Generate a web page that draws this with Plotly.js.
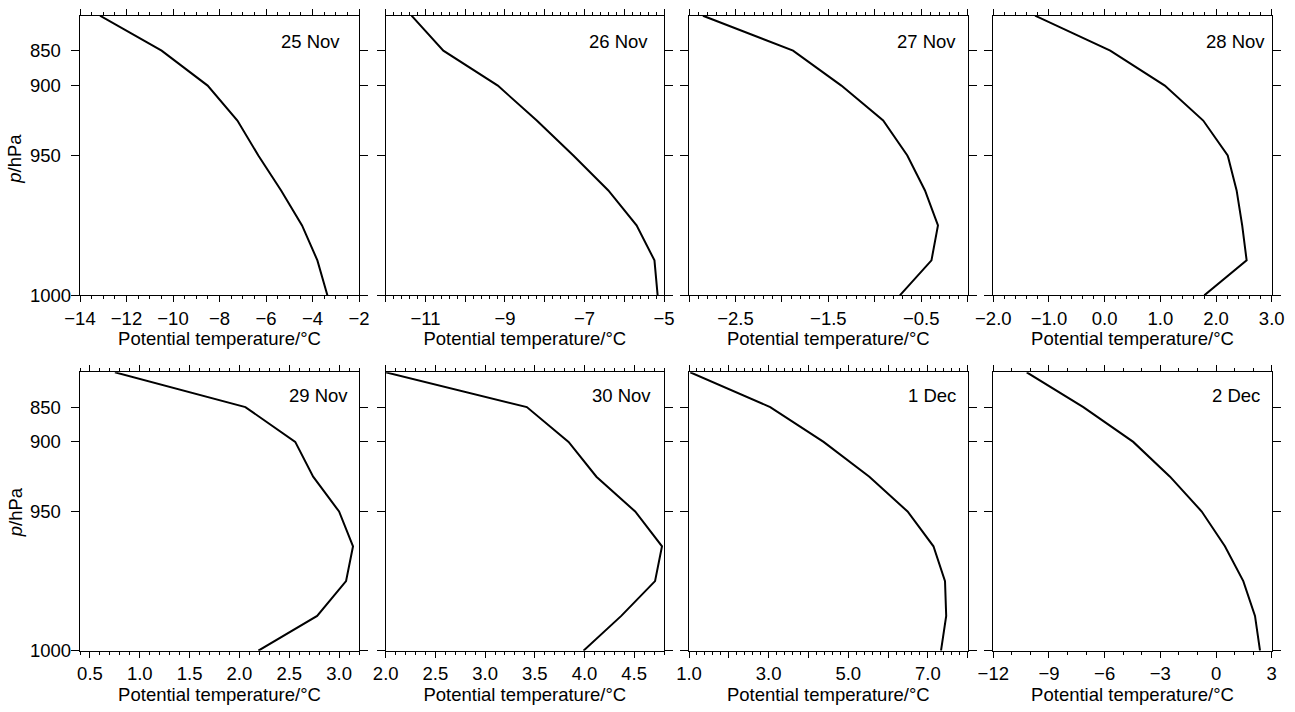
<!DOCTYPE html>
<html>
<head>
<meta charset="utf-8">
<script src="https://cdn.plot.ly/plotly-3.0.1.min.js"></script>
<style>html,body{margin:0;padding:0;background:#fff;}#chart{width:1295px;height:712px;}</style>
</head>
<body>
<div id="chart"></div>
<script>
// ---- data ----
const dates = ['25 Nov', '26 Nov', '27 Nov', '28 Nov', '29 Nov', '30 Nov', '1 Dec', '2 Dec'];
// vertical model levels, top (0) to surface (8)
const levels = [0, 1, 2, 3, 4, 5, 6, 7, 8];
const pTickLevels = [1, 2, 4, 8];
const pTickText = ['850', '900', '950', '1000'];

const theta25Nov = [-13.14, -10.49, -8.51, -7.23, -6.33, -5.35, -4.45, -3.79, -3.36];
const theta26Nov = [-11.35, -10.55, -9.18, -8.20, -7.28, -6.40, -5.69, -5.24, -5.16];
const theta27Nov = [-2.85, -1.88, -1.36, -0.91, -0.65, -0.46, -0.32, -0.39, -0.73];
const theta28Nov = [-1.25, 0.10, 1.08, 1.77, 2.21, 2.37, 2.47, 2.55, 1.79];
const theta29Nov = [0.75, 2.06, 2.56, 2.74, 3.00, 3.14, 3.07, 2.78, 2.19];
const theta30Nov = [2.00, 3.42, 3.84, 4.12, 4.51, 4.78, 4.71, 4.37, 3.99];
const theta1Dec  = [1.03, 3.04, 4.38, 5.53, 6.49, 7.14, 7.43, 7.46, 7.33];
const theta2Dec  = [-10.20, -7.15, -4.46, -2.48, -0.77, 0.48, 1.47, 2.10, 2.37];
const series = [theta25Nov, theta26Nov, theta27Nov, theta28Nov, theta29Nov, theta30Nov, theta1Dec, theta2Dec];

// x-axis ranges and ticks per panel
const xRanges = [[-14, -2], [-12, -5], [-3, 0], [-2, 3], [0.4, 3.2], [2.0, 4.8], [1, 8], [-12, 3]];
const xTickVals = [
  [-14, -12, -10, -8, -6, -4, -2],
  [-12, -11, -10, -9, -8, -7, -6, -5],
  [-3, -2.5, -2, -1.5, -1, -0.5, 0],
  [-2, -1, 0, 1, 2, 3],
  [0.5, 1.0, 1.5, 2.0, 2.5, 3.0],
  [2.0, 2.5, 3.0, 3.5, 4.0, 4.5],
  [1, 2, 3, 4, 5, 6, 7, 8],
  [-12, -9, -6, -3, 0, 3]
];
const xTickText = [
  ['\u221214', '\u221212', '\u221210', '\u22128', '\u22126', '\u22124', '\u22122'],
  ['', '\u221211', '', '\u22129', '', '\u22127', '', '\u22125'],
  ['', '\u22122.5', '', '\u22121.5', '', '\u22120.5', ''],
  ['\u22122.0', '\u22121.0', '0.0', '1.0', '2.0', '3.0'],
  ['0.5', '1.0', '1.5', '2.0', '2.5', '3.0'],
  ['2.0', '2.5', '3.0', '3.5', '4.0', '4.5'],
  ['1.0', '', '3.0', '', '5.0', '', '7.0', ''],
  ['\u221212', '\u22129', '\u22126', '\u22123', '0', '3']
];
const xMinorStep = [0.5, 0.2, 0.1, 0.2, 0.1, 0.1, 0.2, 1];
const xTitle = 'Potential temperature/\u00b0C';
const yTitle = '<i>p</i>/hPa';

// ---- layout ----
const W = 1295, H = 712;
const colPx = [[80, 359], [385.7, 664], [689, 967.7], [993.3, 1271.7]];
const rowPx = [[15.7, 295.3], [372.3, 650.7]];
const labelRightGap = [17, 14, 10, 5, 9, 11, 10, 10];
const labelTopGap = [26, 26, 26, 26, 23, 23, 23, 23];

const FONT = 'Liberation Sans, Arial, Helvetica, sans-serif';
const FS = 18.5;
const traces = [];
const layout = {
  width: W, height: H,
  margin: {l: 0, r: 0, t: 0, b: 0},
  paper_bgcolor: '#fff', plot_bgcolor: '#fff',
  showlegend: false,
  font: {family: FONT, size: FS, color: '#000'},
  annotations: []
};

for (let i = 0; i < 8; i++) {
  const r = Math.floor(i / 4), c = i % 4;
  const n = i === 0 ? '' : String(i + 1);
  const cp = colPx[c], rp = rowPx[r];
  traces.push({
    x: series[i], y: levels, xaxis: 'x' + n, yaxis: 'y' + n,
    type: 'scatter', mode: 'lines', cliponaxis: false,
    line: {color: '#000', width: 2}, hoverinfo: 'x+y'
  });
  layout['xaxis' + n] = {
    domain: [cp[0] / W, cp[1] / W],
    anchor: 'y' + n,
    range: xRanges[i],
    tickmode: 'array', tickvals: xTickVals[i], ticktext: xTickText[i],
    ticks: 'outside', ticklen: 6, tickwidth: 1, tickcolor: '#000',
    minor: {ticks: 'outside', ticklen: 3, tickwidth: 1, tickcolor: '#000',
            tickmode: 'linear', tick0: xRanges[i][0], dtick: xMinorStep[i], showgrid: false},
    showline: true, linecolor: '#000', linewidth: 1, mirror: 'allticks',
    showgrid: false, zeroline: false,
    tickfont: {family: FONT, size: FS, color: '#000'},
    title: {text: xTitle, font: {family: FONT, size: FS, color: '#000'}, standoff: 4}
  };
  layout['yaxis' + n] = {
    domain: [1 - rp[1] / H, 1 - rp[0] / H],
    anchor: 'x' + n,
    range: [8, 0],
    tickmode: 'array', tickvals: pTickLevels, ticktext: pTickText,
    showticklabels: false,
    ticks: 'outside', ticklen: 8, tickwidth: 1, tickcolor: '#000',
    showline: true, linecolor: '#000', linewidth: 1, mirror: 'ticks',
    showgrid: false, zeroline: false,
    title: {text: ''}
  };
  if (c === 0) {
    // left-aligned pressure tick labels, placed on the y scale
    pTickLevels.forEach(function (lv, k) {
      layout.annotations.push({
        text: pTickText[k], showarrow: false,
        xref: 'paper', yref: 'y' + n,
        x: 27.5 / W, xanchor: 'left', y: lv, yanchor: 'middle',
        font: {family: FONT, size: FS, color: '#000'}
      });
    });
    layout.annotations.push({
      text: yTitle, showarrow: false, textangle: -90,
      xref: 'paper', yref: 'y' + n + ' domain',
      x: 15 / W, xanchor: 'center', y: 1 - (r === 0 ? 143 : 140) / (rp[1] - rp[0]), yanchor: 'middle',
      font: {family: FONT, size: FS, color: '#000'}
    });
  }
  layout.annotations.push({
    text: dates[i], showarrow: false,
    xref: 'x' + n + ' domain', yref: 'y' + n + ' domain',
    x: 1 - labelRightGap[i] / (cp[1] - cp[0]), xanchor: 'right',
    y: 1 - labelTopGap[i] / (rp[1] - rp[0]), yanchor: 'middle',
    font: {family: FONT, size: FS, color: '#000'}
  });
}

Plotly.newPlot('chart', traces, layout, {displayModeBar: false, staticPlot: true});
</script>
</body>
</html>
